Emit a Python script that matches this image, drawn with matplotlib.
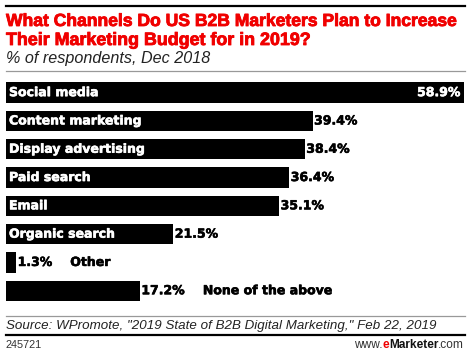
import matplotlib
matplotlib.use("Agg")
import matplotlib.pyplot as plt
from matplotlib.lines import Line2D
import matplotlib.patheffects as pe

categories = ["Social media", "Content marketing", "Display advertising", "Paid search",
              "Email", "Organic search", "Other", "None of the above"]
values = [58.9, 39.4, 38.4, 36.4, 35.1, 21.5, 1.3, 17.2]
value_labels = ["58.9%", "39.4%", "38.4%", "36.4%", "35.1%", "21.5%", "1.3%", "17.2%"]
outside_label = [False, False, False, False, False, False, True, True]

title1 = "What Channels Do US B2B Marketers Plan to Increase"
title2 = "Their Marketing Budget for in 2019?"
subtitle = "% of respondents, Dec 2018"
source = 'Source: WPromote, "2019 State of B2B Digital Marketing," Feb 22, 2019'
chart_id = "245721"

W, H = 470, 357
fig = plt.figure(figsize=(W / 100, H / 100), dpi=100)
fig.patch.set_facecolor("white")

def fx(x):
    return x / W

def fy(y):
    return 1 - y / H

RED = "#f00000"
BOLD = ["DejaVu Sans"]
SANS = ["Liberation Sans", "DejaVu Sans"]

renderer = fig.canvas.get_renderer()

def heavy(color, lw):
    return [pe.withStroke(linewidth=lw, foreground=color)]

def fit_text(x, y, s, target_w, **kw):
    t = fig.text(fx(x), fy(y), s, va="baseline", **kw)
    w = t.get_window_extent(renderer=renderer).width
    t.set_fontsize(t.get_fontsize() * target_w / w)
    return t

# header
fig.add_artist(Line2D([fx(6), fx(465)], [fy(6), fy(6)], color="black", lw=1.6))
fit_text(6, 26, title1, 451, color=RED, fontweight="bold", family=SANS, fontsize=11,
         path_effects=heavy(RED, 0.6))
fit_text(6, 45, title2, 305, color=RED, fontweight="bold", family=SANS, fontsize=11,
         path_effects=heavy(RED, 0.6))
fit_text(6, 63, subtitle, 205, color="#222222", style="italic", family=SANS, fontsize=10)
fig.add_artist(Line2D([fx(6), fx(465)], [fy(70.5), fy(70.5)], color="#999999", lw=0.9))

# bars
top, bottom = 78.5, 304.9
ax = fig.add_axes([fx(6), fy(bottom), fx(464.3) - fx(6), (bottom - top) / H])
n = len(categories)
ypos = list(range(n))
ax.barh(ypos, values, height=0.72, color="black")
ax.set_xlim(0, max(values))
ax.set_ylim(n - 0.5, -0.5)
ax.axis("off")

fs = 9
for i, (cat, v, vl, out) in enumerate(zip(categories, values, value_labels, outside_label)):
    if i == 0:
        ax.annotate(vl, (v, i), xytext=(-4, 0), textcoords="offset pixels",
                    ha="right", va="center", color="white", fontweight="bold",
                    family=BOLD, fontsize=fs, path_effects=heavy("white", 0.4))
        ax.annotate(cat, (0, i), xytext=(3, 0), textcoords="offset pixels",
                    ha="left", va="center", color="white", fontweight="bold",
                    family=BOLD, fontsize=fs, path_effects=heavy("white", 0.4))
        continue
    vt = ax.annotate(vl, (v, i), xytext=(1.5, 0), textcoords="offset pixels",
                     ha="left", va="center", color="black", fontweight="bold",
                     family=BOLD, fontsize=fs, path_effects=heavy("black", 0.4))
    if out:
        ax.annotate(cat, xy=(1, 0.5), xycoords=vt, xytext=(18, 0),
                    textcoords="offset pixels", ha="left", va="center",
                    color="black", fontweight="bold", family=BOLD, fontsize=fs,
                    path_effects=heavy("black", 0.4))
    else:
        ax.annotate(cat, (0, i), xytext=(3, 0), textcoords="offset pixels",
                    ha="left", va="center", color="white", fontweight="bold",
                    family=BOLD, fontsize=fs, path_effects=heavy("white", 0.4))

# footer
fig.add_artist(Line2D([fx(6), fx(465)], [fy(316), fy(316)], color="#999999", lw=0.9))
fit_text(6, 329, source, 431, color="#222222", style="italic", family=SANS, fontsize=9)
fig.add_artist(Line2D([fx(6), fx(465)], [fy(335), fy(335)], color="black", lw=1.6))
fig.text(fx(6), fy(348.5), chart_id, va="baseline", ha="left", fontsize=7.8,
         family=SANS, color="#333333")
ffs = 8.6
t3 = fig.text(fx(464), fy(348.5), ".com", va="baseline", ha="right", fontsize=ffs,
              family=SANS, color="#333333")
t2 = fig.text(0, 0, "Marketer", va="baseline", ha="right", fontsize=ffs,
              family=SANS, fontweight="bold", color="#111111")
t1 = fig.text(0, 0, "e", va="baseline", ha="right", fontsize=ffs,
              family=SANS, fontweight="bold", color=RED)
t0 = fig.text(0, 0, "www.", va="baseline", ha="right", fontsize=ffs,
              family=SANS, color="#333333")
prev = t3
for t in (t2, t1, t0):
    bb = prev.get_window_extent(renderer=renderer)
    t.set_position((bb.x0 / W, fy(348.5)))
    prev = t

fig.savefig("out.png", dpi=100, facecolor="white")
